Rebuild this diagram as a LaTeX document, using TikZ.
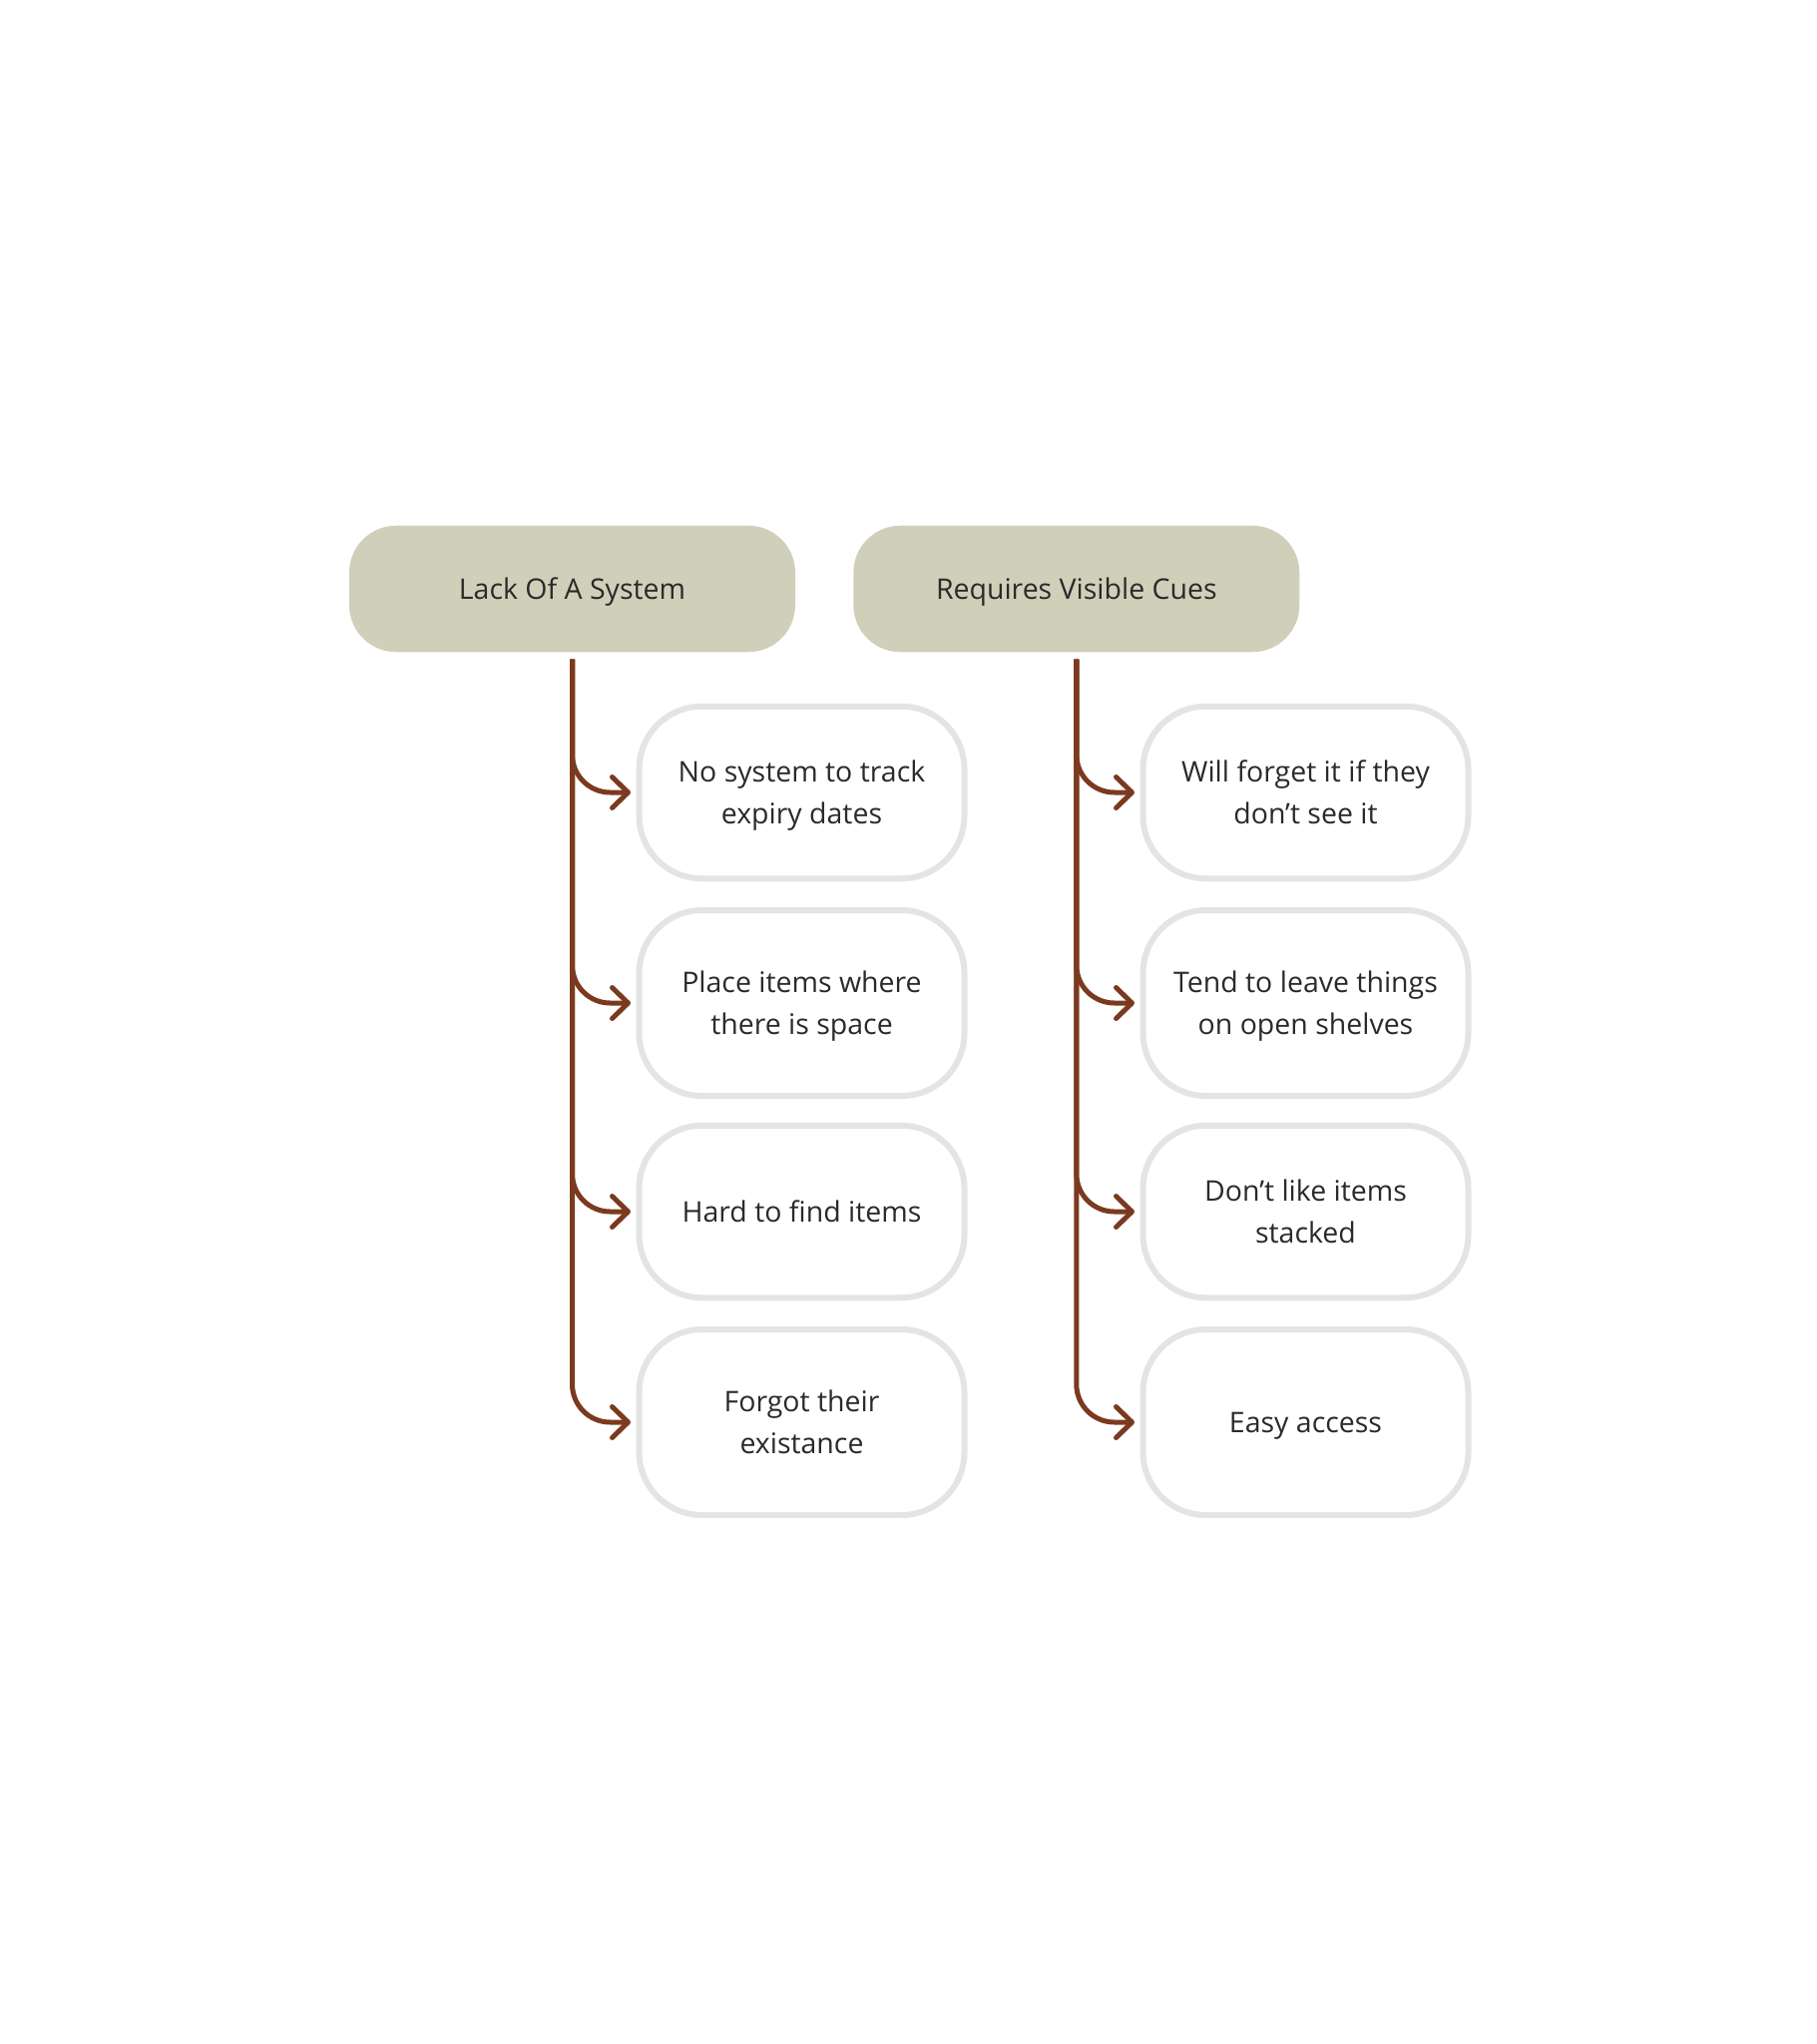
\documentclass[tikz,border=0pt]{standalone}
\usepackage{fontspec}
\setmainfont{Open Sans}
\usetikzlibrary{positioning, arrows.meta}

\definecolor{headfill}{HTML}{D0CFB9}
\definecolor{linkbrown}{HTML}{7B3A1F}
\definecolor{kidline}{HTML}{E4E4E4}
\definecolor{inktext}{HTML}{2A2A2A}

\newcommand{\cuefont}{\fontsize{8.1pt}{12pt}\selectfont}

\tikzset{
  head/.style={fill=headfill, rounded corners=4.7mm, minimum width=44.7mm,
    minimum height=12.66mm, text=inktext, font=\cuefont, text depth=0pt},
  kid/.style={draw=kidline, line width=0.6mm, fill=white, rounded corners=6.3mm,
    minimum width=32.6mm, minimum height=17.25mm, align=center, text=inktext,
    font=\cuefont, text depth=0pt},
  tallkid/.style={kid, minimum height=18.6mm},
  branch/.style={draw=linkbrown, line width=0.5mm, rounded corners=3.8mm,
    -{Straight Barb[length=1.6mm,width=3.1mm,round]}, shorten >=0.55mm},
}

\begin{document}
\begin{tikzpicture}[x=0.1mm, y=-0.1mm]
\useasboundingbox (0,0) rectangle (1820,2048);

% the two headings
\node[head] (lack) at (573.5,590) {Lack Of A System};
\node[head] (cues) at (1078.8,590) {Requires Visible Cues};

% left column
\node[kid] (lack1) at (803.5,794) {No system to track\\expiry dates};
\node[tallkid] (lack2) at (803.5,1005) {Place items where\\there is space};
\node[kid] (lack3) at (803.5,1214) {Hard to find items};
\node[tallkid] (lack4) at (803.5,1425) {Forgot their\\existance};

% right column
\node[kid] (cues1) at (1308.5,794) {Will forget it if they\\don’t see it};
\node[tallkid] (cues2) at (1308.5,1005) {Tend to leave things\\on open shelves};
\node[kid] (cues3) at (1308.5,1214) {Don’t like items\\stacked};
\node[tallkid] (cues4) at (1308.5,1425) {Easy access};

% branches
\draw[branch] ([yshift=-0.65mm]lack.south) |- (lack1.west);
\draw[branch] ([yshift=-0.65mm]lack.south) |- (lack2.west);
\draw[branch] ([yshift=-0.65mm]lack.south) |- (lack3.west);
\draw[branch] ([yshift=-0.65mm]lack.south) |- (lack4.west);

\draw[branch] ([yshift=-0.65mm]cues.south) |- (cues1.west);
\draw[branch] ([yshift=-0.65mm]cues.south) |- (cues2.west);
\draw[branch] ([yshift=-0.65mm]cues.south) |- (cues3.west);
\draw[branch] ([yshift=-0.65mm]cues.south) |- (cues4.west);
\end{tikzpicture}
\end{document}
